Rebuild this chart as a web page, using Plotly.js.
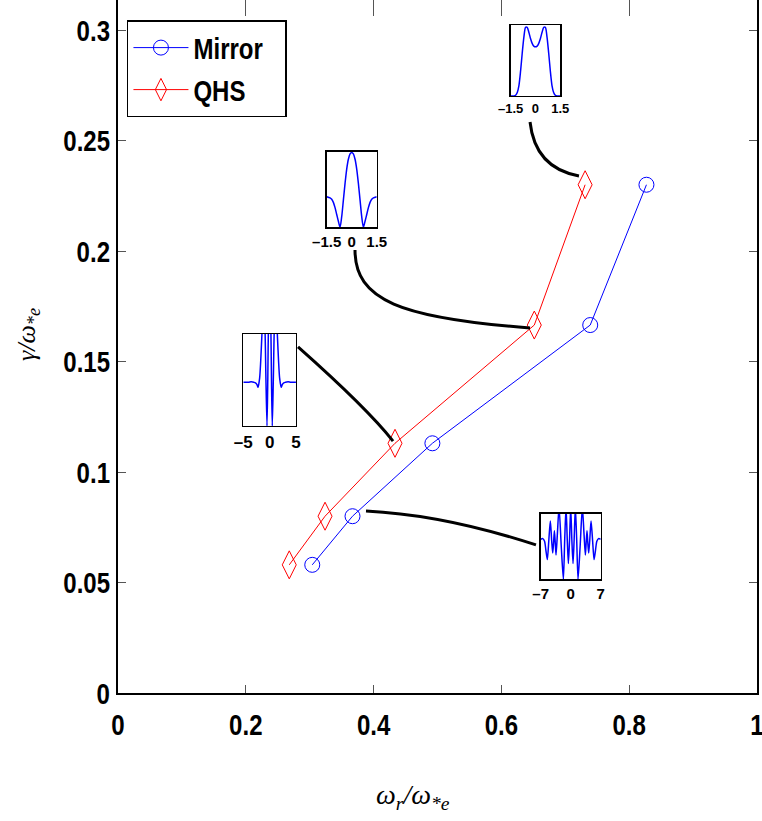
<!DOCTYPE html>
<html><head><meta charset="utf-8">
<script src="https://cdn.plot.ly/plotly-3.0.1.min.js"></script>
<style>html,body{margin:0;padding:0;background:#fff}#chart{width:762px;height:821px}</style>
</head><body><div id="chart"></div>
<script>
// ---- main data ----
const seriesNames = ['Mirror', 'QHS'];
const mirrorX = [0.304, 0.367, 0.492, 0.739, 0.827];
const mirrorY = [0.058, 0.080, 0.113, 0.1665, 0.230];
const qhsX = [0.268, 0.324, 0.4335, 0.6515, 0.731];
const qhsY = [0.058, 0.080, 0.113, 0.1665, 0.230];
const xTickVals = [0, 0.2, 0.4, 0.6, 0.8, 1];
const xTickText = ['0', '0.2', '0.4', '0.6', '0.8', '1'];
const yTickVals = [0, 0.05, 0.1, 0.15, 0.2, 0.25, 0.3];
const yTickText = ['0', '0.05', '0.1', '0.15', '0.2', '0.25', '0.3'];

// ---- inset eigenfunction data ----
const in1X = [-1.5,-1.3,-1.2,-1.1,-1.0,-0.9,-0.8,-0.7,-0.6,-0.5,-0.4,-0.3,-0.2,-0.1,0,0.1,0.2,0.3,0.4,0.5,0.6,0.7,0.8,0.9,1.0,1.1,1.2,1.3,1.5];
const in1Y = [0,0,0.01,0.05,0.15,0.36,0.62,0.85,0.99,0.99,0.92,0.83,0.76,0.72,0.71,0.72,0.76,0.83,0.92,0.99,0.99,0.85,0.62,0.36,0.15,0.05,0.01,0,0];
const in1Ticks = [-1.5, 0, 1.5];

const in2X = [-1.5,-1.3,-1.2,-1.1,-1.0,-0.9,-0.8,-0.7,-0.6,-0.5,-0.4,-0.3,-0.2,-0.1,0,0.1,0.2,0.3,0.4,0.5,0.6,0.7,0.8,0.9,1.0,1.1,1.2,1.3,1.5];
const in2Y = [0.405,0.39,0.37,0.33,0.26,0.17,0.08,0,0.14,0.36,0.58,0.77,0.9,0.97,0.99,0.97,0.9,0.77,0.58,0.36,0.14,0,0.08,0.17,0.26,0.33,0.37,0.39,0.405];
const in2Ticks = [-1.5, 0, 1.5];

const in3X = [-5,-4.5,-4,-3.5,-3,-2.7,-2.4,-2.2,-1.9,-1.7,-1.5,-1.3,-1.1,-0.9,-0.7,-0.5,-0.35,-0.2,0,0.2,0.35,0.5,0.7,0.9,1.1,1.3,1.5,1.7,1.9,2.2,2.4,2.7,3,3.5,4,4.5,5];
const in3Y = [0.475,0.475,0.475,0.48,0.475,0.47,0.45,0.42,0.52,0.7,0.95,1.2,1.3,1.1,0.5,0,0.5,1.2,1.5,1.2,0.5,0,0.5,1.1,1.3,1.2,0.95,0.7,0.52,0.42,0.45,0.47,0.475,0.48,0.475,0.475,0.475];
const in3Ticks = [-5, 0, 5];

const in4X = [-7,-6.5,-6.1,-5.8,-5.45,-5.1,-4.75,-4.45,-4.2,-4.0,-3.8,-3.6,-3.42,-3.1,-2.72,-2.2,-1.71,-1.4,-1.09,-0.8,-0.54,-0.27,0,0.27,0.54,0.8,1.09,1.4,1.71,2.2,2.72,3.1,3.42,3.6,3.8,4.0,4.2,4.45,4.75,5.1,5.45,5.8,6.1,6.5,7];
const in4Y = [0.61,0.62,0.58,0.45,0.30,0.6,0.89,0.6,0.40,0.55,0.74,0.55,0.37,0.7,1.1,0.5,0,0.6,1.1,0.6,0.24,0.6,1.1,0.6,0.24,0.6,1.1,0.6,0,0.5,1.1,0.7,0.37,0.55,0.74,0.55,0.40,0.6,0.89,0.6,0.30,0.45,0.58,0.62,0.61];
const in4Ticks = [-7, 0, 7];

const sansB = "'Liberation Sans', Arial, sans-serif";
const serif = "'Liberation Serif', 'DejaVu Serif', serif";
const blue = 'rgb(0,0,255)';
const red = 'rgb(255,0,0)';

const traces = [
  {x: mirrorX, y: mirrorY, name: seriesNames[0], type: 'scatter', mode: 'lines+markers',
   line: {color: blue, width: 1}, marker: {symbol: 'circle-open', size: 15, color: blue, line: {width: 1, color: blue}},
   cliponaxis: false},
  {x: qhsX, y: qhsY, name: seriesNames[1], type: 'scatter', mode: 'lines+markers',
   line: {color: red, width: 1}, marker: {symbol: 'diamond-tall-open', size: 20, color: red, line: {width: 1, color: red}},
   cliponaxis: false},
  {x: [], y: [], xaxis: 'x2', yaxis: 'y', showlegend: false, hoverinfo: 'skip', type: 'scatter'}
];
const insets = [[in1X, in1Y, 3], [in2X, in2Y, 4], [in3X, in3Y, 5], [in4X, in4Y, 6]];
insets.forEach(([xs, ys, n]) => {
  traces.push({x: xs, y: ys, xaxis: 'x' + n, yaxis: 'y' + n, type: 'scatter', mode: 'lines',
    line: {color: blue, width: 1.5, shape: 'spline', smoothing: 0.7}, showlegend: false, hoverinfo: 'skip'});
});

function insetX(dom, range, ticks, size, anchor) {
  return {domain: dom, range: range, anchor: anchor, tickvals: ticks,
    ticktext: ticks.map(v => v < 0 ? '\u2013' + Math.abs(v) : String(v)),
    ticks: '', showline: true, mirror: true, linecolor: 'black', linewidth: 1.5,
    showgrid: false, zeroline: false, fixedrange: true, ticklabeloverflow: 'allow',
    tickfont: {family: sansB, size: size, color: 'black', weight: 'bold'}};
}
function insetY(dom, range, anchor) {
  return {domain: dom, range: range, anchor: anchor, showticklabels: false, ticks: '', showline: true, mirror: true,
    linecolor: 'black', linewidth: 1.5, showgrid: false, zeroline: false, fixedrange: true};
}

const conn = [
  'M0.6448,0.2584 Q0.6526,0.2376 0.7214,0.2340',
  'M0.3709,0.2005 C0.3709,0.1778 0.4413,0.1697 0.6448,0.1652',
  'M0.2817,0.1566 Q0.3892,0.1290 0.4304,0.1140',
  'M0.3881,0.0824 Q0.5117,0.0806 0.6541,0.0670'
];

const layout = {
  width: 762, height: 821,
  margin: {l: 118, r: 5, t: 0, b: 128},
  paper_bgcolor: 'white', plot_bgcolor: 'white',
  showlegend: true,
  legend: {x: 0.014, y: 0.971, xanchor: 'left', yanchor: 'top', bgcolor: 'white',
    bordercolor: 'black', borderwidth: 1.5, itemwidth: 55,
    font: {family: sansB, size: 30, color: 'black', weight: 'bold'}},
  xaxis: {range: [0, 1], tickvals: xTickVals, ticktext: xTickText, ticks: 'inside', ticklen: 8,
    tickcolor: '#555', showline: true, linecolor: 'black', linewidth: 2, mirror: false,
    showgrid: false, zeroline: false, ticklabeloverflow: 'allow', ticklabelstandoff: 4,
    tickfont: {family: sansB, size: 30, color: 'black', weight: 'bold'}},
  xaxis2: {overlaying: 'x', side: 'top', anchor: 'y', range: [0, 1], tickvals: xTickVals, ticks: 'inside',
    ticklen: 16, tickcolor: '#555', showticklabels: false, showline: false, showgrid: false, zeroline: false},
  yaxis: {range: [0, 0.3136], tickvals: yTickVals, ticktext: yTickText, ticks: 'inside', ticklen: 8,
    tickcolor: '#555', showline: true, linecolor: 'black', linewidth: 2, mirror: 'ticks',
    showgrid: false, zeroline: false, ticklabeloverflow: 'allow',
    tickfont: {family: sansB, size: 30, color: 'black', weight: 'bold'}},
  xaxis3: insetX([0.6145, 0.6921], [-1.5, 1.5], in1Ticks, 13, 'y3'), yaxis3: insetY([0.8615, 0.9635], [0, 1.02], 'x3'),
  xaxis4: insetX([0.3266, 0.4049], [-1.5, 1.5], in2Ticks, 15, 'y4'), yaxis4: insetY([0.6720, 0.7811], [0, 1.0], 'x4'),
  xaxis5: insetX([0.1961, 0.2785], [-5, 5], in3Ticks, 17, 'y5'), yaxis5: insetY([0.3853, 0.5180], [0, 1.0], 'x5'),
  xaxis6: insetX([0.6615, 0.7554], [-7, 7], in4Ticks, 15, 'y6'), yaxis6: insetY([0.1641, 0.2587], [0, 1.0], 'x6'),
  shapes: conn.map(p => ({type: 'path', path: p, xref: 'x', yref: 'y', line: {color: 'black', width: 3}, layer: 'above'})),
  annotations: [
    {text: '\u03c9<sub>r</sub>/\u03c9<sub>*e</sub>', xref: 'paper', yref: 'paper', x: 0.4617, y: -0.150,
     xanchor: 'center', yanchor: 'middle', showarrow: false,
     font: {family: serif, size: 28, style: 'italic', color: 'black'}},
    {text: '\u03b3/\u03c9<sub>*e</sub>', xref: 'paper', yref: 'paper', x: -0.1408, y: 0.5166,
     xanchor: 'center', yanchor: 'middle', showarrow: false, textangle: -90,
     font: {family: serif, size: 26, style: 'italic', color: 'black'}}
  ]
};

Plotly.newPlot('chart', traces, layout, {displayModeBar: false, staticPlot: true}).then(gd => {
  // condense bold labels to mimic the narrow Helvetica of the original
  gd.querySelectorAll('.xtick text, .ytick text, .legendtext').forEach(t => {
    const w = t.getComputedTextLength();
    if (w > 0) {
      t.setAttribute('textLength', (w * 0.8).toFixed(1));
      t.setAttribute('lengthAdjust', 'spacingAndGlyphs');
    }
  });
});
</script>
</body></html>
